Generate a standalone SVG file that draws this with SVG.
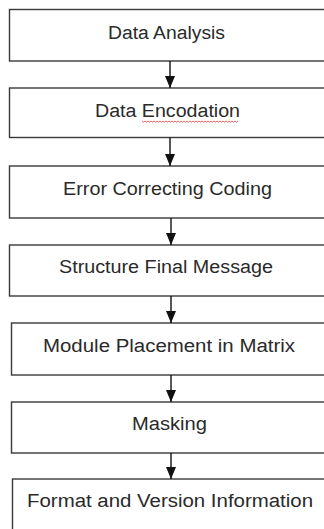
<svg xmlns="http://www.w3.org/2000/svg" width="324" height="529" viewBox="0 0 324 529">
<defs>
<marker id="ah" markerWidth="12" markerHeight="10" refX="12" refY="5" orient="auto" markerUnits="userSpaceOnUse" viewBox="0 0 12 10">
<path d="M0,0 L12,5 L0,10 Z" fill="#111"/>
</marker>
</defs>
<style>
.box{fill:#fff;stroke:#3a3a3a;stroke-width:1.4}
.lbl{font-family:"Liberation Sans",Arial,sans-serif;font-size:18px;fill:#2a2a2a;text-anchor:middle}
.con{stroke:#111;stroke-width:1.4;fill:none}
</style>
<rect width="324" height="529" fill="#fff"/>
<g id="n1"><rect class="box" x="9.5" y="9.5" width="330" height="51.5"/><text class="lbl" x="166.5" y="38.5" textLength="117" lengthAdjust="spacingAndGlyphs">Data Analysis</text></g>
<g id="n2"><rect class="box" x="9.5" y="88" width="330" height="49.5"/><text class="lbl" x="167.5" y="117" textLength="145" lengthAdjust="spacingAndGlyphs">Data Encodation</text><path d="M142,121 l1.5,1.2 l1.5,-1.2 l1.5,1.2 l1.5,-1.2 l1.5,1.2 l1.5,-1.2 l1.5,1.2 l1.5,-1.2 l1.5,1.2 l1.5,-1.2 l1.5,1.2 l1.5,-1.2 l1.5,1.2 l1.5,-1.2 l1.5,1.2 l1.5,-1.2 l1.5,1.2 l1.5,-1.2 l1.5,1.2 l1.5,-1.2 l1.5,1.2 l1.5,-1.2 l1.5,1.2 l1.5,-1.2 l1.5,1.2 l1.5,-1.2 l1.5,1.2 l1.5,-1.2 l1.5,1.2 l1.5,-1.2 l1.5,1.2 l1.5,-1.2 l1.5,1.2 l1.5,-1.2 l1.5,1.2 l1.5,-1.2 l1.5,1.2 l1.5,-1.2 l1.5,1.2 l1.5,-1.2 l1.5,1.2 l1.5,-1.2 l1.5,1.2 l1.5,-1.2 l1.5,1.2 l1.5,-1.2 l1.5,1.2 l1.5,-1.2 l1.5,1.2 l1.5,-1.2 l1.5,1.2 l1.5,-1.2 l1.5,1.2 l1.5,-1.2 l1.5,1.2 l1.5,-1.2 l1.5,1.2 l1.5,-1.2 l1.5,1.2 l1.5,-1.2 l1.5,1.2 l1.5,-1.2 l1.5,1.2 l1.5,-1.2" fill="none" stroke="#e83a3a" stroke-width="0.8"/></g>
<g id="n3"><rect class="box" x="9.5" y="166" width="330" height="52"/><text class="lbl" x="167.5" y="195" textLength="209" lengthAdjust="spacingAndGlyphs">Error Correcting Coding</text></g>
<g id="n4"><rect class="box" x="9.5" y="245" width="330" height="51"/><text class="lbl" x="166" y="273" textLength="214" lengthAdjust="spacingAndGlyphs">Structure Final Message</text></g>
<g id="n5"><rect class="box" x="11.5" y="323" width="330" height="52"/><text class="lbl" x="169" y="352" textLength="252" lengthAdjust="spacingAndGlyphs">Module Placement in Matrix</text></g>
<g id="n6"><rect class="box" x="11.5" y="402" width="330" height="51"/><text class="lbl" x="169.5" y="430" textLength="75" lengthAdjust="spacingAndGlyphs">Masking</text></g>
<g id="n7"><rect class="box" x="12.5" y="479" width="330" height="80"/><text class="lbl" x="170" y="507" textLength="286" lengthAdjust="spacingAndGlyphs">Format and Version Information</text></g>
<g id="connectors">
<line class="con" x1="170" y1="61" x2="170" y2="88" marker-end="url(#ah)"/>
<line class="con" x1="170" y1="137.5" x2="170" y2="166" marker-end="url(#ah)"/>
<line class="con" x1="171" y1="218" x2="171" y2="245" marker-end="url(#ah)"/>
<line class="con" x1="171" y1="296" x2="171" y2="323" marker-end="url(#ah)"/>
<line class="con" x1="171" y1="375" x2="171" y2="402" marker-end="url(#ah)"/>
<line class="con" x1="171" y1="453" x2="171" y2="479" marker-end="url(#ah)"/>
</g>
</svg>
